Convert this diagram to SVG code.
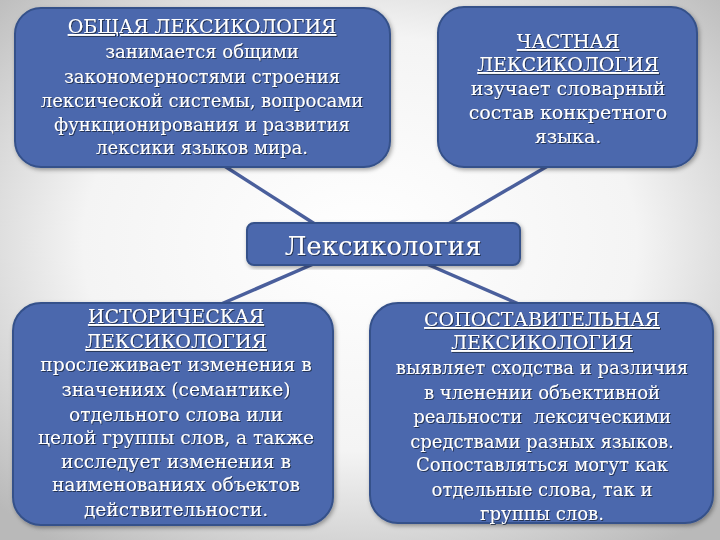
<svg xmlns="http://www.w3.org/2000/svg" width="720" height="540" viewBox="0 0 720 540">
<defs>
<radialGradient id="bg" cx="50%" cy="45%" r="70%">
<stop offset="0" stop-color="#ffffff"/>
<stop offset="0.55" stop-color="#f4f4f4"/>
<stop offset="1" stop-color="#b9b9b9"/>
</radialGradient>
<filter id="sh" x="-10%" y="-10%" width="120%" height="120%">
<feDropShadow dx="1.5" dy="2" stdDeviation="2" flood-color="#000" flood-opacity="0.35"/>
</filter>
<filter id="ts" x="-5%" y="-20%" width="110%" height="140%">
<feDropShadow dx="1" dy="1" stdDeviation="0.6" flood-color="#1a2540" flood-opacity="0.8"/>
</filter>
</defs>
<style>
.box{fill:#4c68ad;stroke:#34518a;stroke-width:2}
.conn{stroke:#4a5f9c;stroke-width:3.5;fill:none}
text{font-family:"DejaVu Serif","Liberation Serif",serif;fill:#ffffff;text-anchor:middle;font-size:18px}
.t{text-decoration:underline;font-size:19px}
.b19{font-size:19px}
.b185{font-size:18.6px}
.big{font-size:26px}
.pre{white-space:pre}
</style>
<rect width="720" height="540" fill="url(#bg)"/>
<g id="connectors">
<line class="conn" x1="215" y1="160" x2="318" y2="226"/>
<line class="conn" x1="558" y1="160" x2="445" y2="226"/>
<line class="conn" x1="318" y1="262" x2="212" y2="308"/>
<line class="conn" x1="422" y1="262" x2="528" y2="308"/>
</g>
<g id="general">
<rect class="box" x="15" y="8" width="375" height="159" rx="26" filter="url(#sh)"/>
<g filter="url(#ts)">
<text class="t" x="202" y="33">ОБЩАЯ ЛЕКСИКОЛОГИЯ</text>
<text x="202" y="58">занимается общими</text>
<text x="202" y="83">закономерностями строения</text>
<text x="202" y="107">лексической системы, вопросами</text>
<text x="202" y="131">функционирования и развития</text>
<text x="202" y="154">лексики языков мира.</text>
</g>
</g>
<g id="particular">
<rect class="box" x="438" y="7" width="259" height="160" rx="26" filter="url(#sh)"/>
<g filter="url(#ts)">
<text class="t" x="568" y="48">ЧАСТНАЯ</text>
<text class="t" x="568" y="71">ЛЕКСИКОЛОГИЯ</text>
<text class="b19" x="568" y="95">изучает словарный</text>
<text class="b19" x="568" y="119">состав конкретного</text>
<text class="b19" x="568" y="143">языка.</text>
</g>
</g>
<g id="center">
<rect class="box" x="247" y="223" width="273" height="42" rx="7" filter="url(#sh)"/>
<text class="big" x="383" y="255" filter="url(#ts)">Лексикология</text>
</g>
<g id="historical">
<rect class="box" x="13" y="303" width="320" height="222" rx="28" filter="url(#sh)"/>
<g filter="url(#ts)">
<text class="t" x="176" y="323">ИСТОРИЧЕСКАЯ</text>
<text class="t" x="176" y="348">ЛЕКСИКОЛОГИЯ</text>
<text class="b185" x="176" y="371">прослеживает изменения в</text>
<text class="b185" x="176" y="396">значениях (семантике)</text>
<text class="b185" x="176" y="421">отдельного слова или</text>
<text class="b185" x="176" y="444">целой группы слов, а также</text>
<text class="b185" x="176" y="468">исследует изменения в</text>
<text class="b185" x="176" y="491">наименованиях объектов</text>
<text class="b185" x="176" y="516">действительности.</text>
</g>
</g>
<g id="comparative">
<rect class="box" x="370" y="303" width="343" height="220" rx="28" filter="url(#sh)"/>
<g filter="url(#ts)">
<text class="t" x="542" y="326">СОПОСТАВИТЕЛЬНАЯ</text>
<text class="t" x="542" y="349">ЛЕКСИКОЛОГИЯ</text>
<text x="542" y="374">выявляет сходства и различия</text>
<text x="542" y="399">в членении объективной</text>
<text class="pre" x="542" y="423">реальности  лексическими</text>
<text x="542" y="448">средствами разных языков.</text>
<text x="542" y="471">Сопоставляться могут как</text>
<text x="542" y="496">отдельные слова, так и</text>
<text x="542" y="520">группы слов.</text>
</g>
</g>
</svg>
